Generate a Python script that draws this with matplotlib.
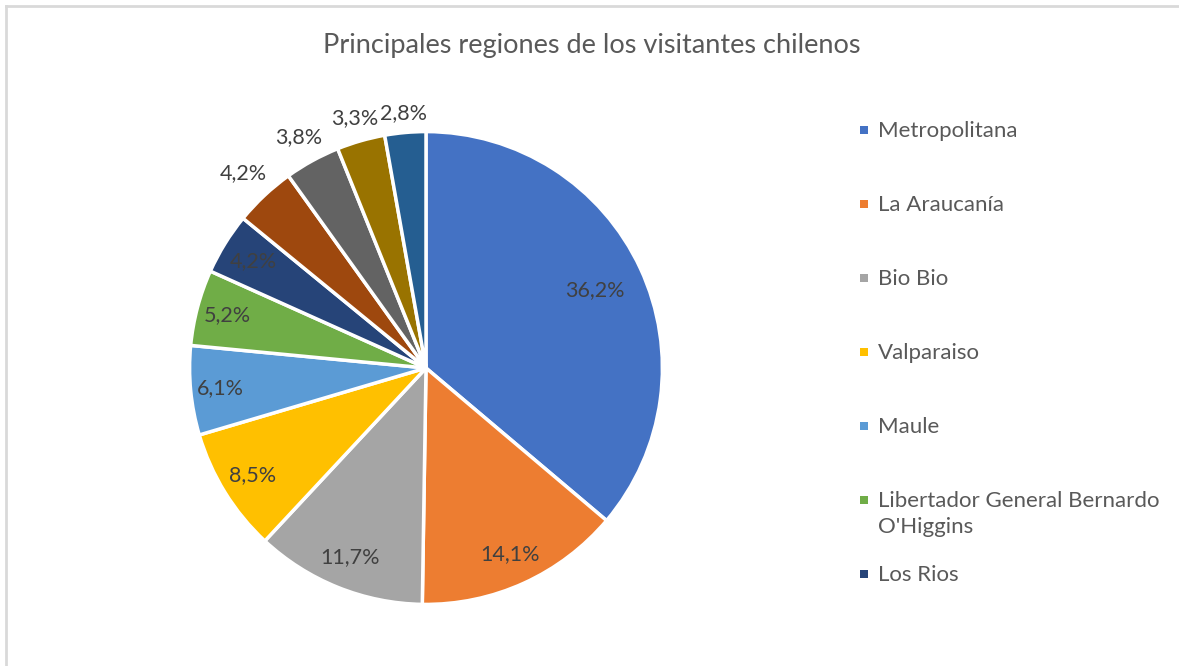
import textwrap
import numpy as np
import matplotlib
matplotlib.use("Agg")
import matplotlib.pyplot as plt
from matplotlib.lines import Line2D
from matplotlib.patches import Rectangle

# ---- data ----
title = "Principales regiones de los visitantes chilenos"
regions = ["Metropolitana", "La Araucanía", "Bio Bio", "Valparaiso", "Maule",
           "Libertador General Bernardo O'Higgins", "Los Rios",
           "Región 8", "Región 9", "Región 10", "Región 11"]
shares = [36.2, 14.1, 11.7, 8.5, 6.1, 5.2, 4.2, 4.2, 3.8, 3.3, 2.8]
colors = ["#4472C4", "#ED7D31", "#A5A5A5", "#FFC000", "#5B9BD5", "#70AD47",
          "#264478", "#9E480E", "#636363", "#997300", "#255E91"]
legend_visible = 7          # the original legend is truncated after 7 entries
outside_from = 7            # labels of the small slices are placed outside
inside_dist = [0.775, 0.85, 0.85, 0.85, 0.86, 0.855, 0.845]

W, H = 1179, 666
plt.rcParams["font.family"] = ["Lato", "DejaVu Sans"]
fig = plt.figure(figsize=(W / 100, H / 100), dpi=100)

# frame (top & left lines, as in the source)
fig.add_artist(Line2D([5.5 / W, 1], [1 - 5.5 / H, 1 - 5.5 / H], color="#D9D9D9", lw=2))
fig.add_artist(Line2D([5.5 / W, 5.5 / W], [0, 1 - 5.5 / H], color="#D9D9D9", lw=2))

# pie axes: centre (426, 368) px, radius ~235 px
R = 235
half = 300
cx, cy = 426, H - 368
ax = fig.add_axes([(cx - half) / W, (cy - half) / H, 2 * half / W, 2 * half / H])
ax.set_xlim(-half / R, half / R)
ax.set_ylim(-half / R, half / R)
ax.set_aspect("equal")
ax.axis("off")

wedges, _ = ax.pie(shares, colors=colors, startangle=90, counterclock=False,
                   radius=0.985, wedgeprops=dict(edgecolor="white", linewidth=2.5))

gap, hw, hh = 4 / R, 24 / R, 9 / R
for i, (w, v) in enumerate(zip(wedges, shares)):
    ang = np.deg2rad((w.theta1 + w.theta2) / 2)
    c, s = np.cos(ang), np.sin(ang)
    if i < outside_from:
        d = inside_dist[i]
    else:
        d = 1 + gap + hw * abs(c) + hh * abs(s)
    ax.text(d * c, d * s, f"{v:.1f}".replace(".", ",") + "%", ha="center",
            va="center", fontsize=15.5, color="#404040")

fig.text(592 / W, 1 - 45 / H, title, ha="center", va="center",
         fontsize=19.5, color="#595959")

# legend (manual, Excel-like)
for i in range(legend_visible):
    y = 130 + 74 * i
    fig.add_artist(Rectangle(((864 - 4) / W, 1 - (y + 4) / H), 8 / W, 8 / H,
                             facecolor=colors[i], edgecolor="none"))
    lab = textwrap.fill(regions[i], 27)
    fig.text(878 / W, 1 - (y - 9) / H, lab, ha="left", va="top",
             fontsize=16, color="#595959", linespacing=1.38)

fig.savefig("out.png", dpi=100)
